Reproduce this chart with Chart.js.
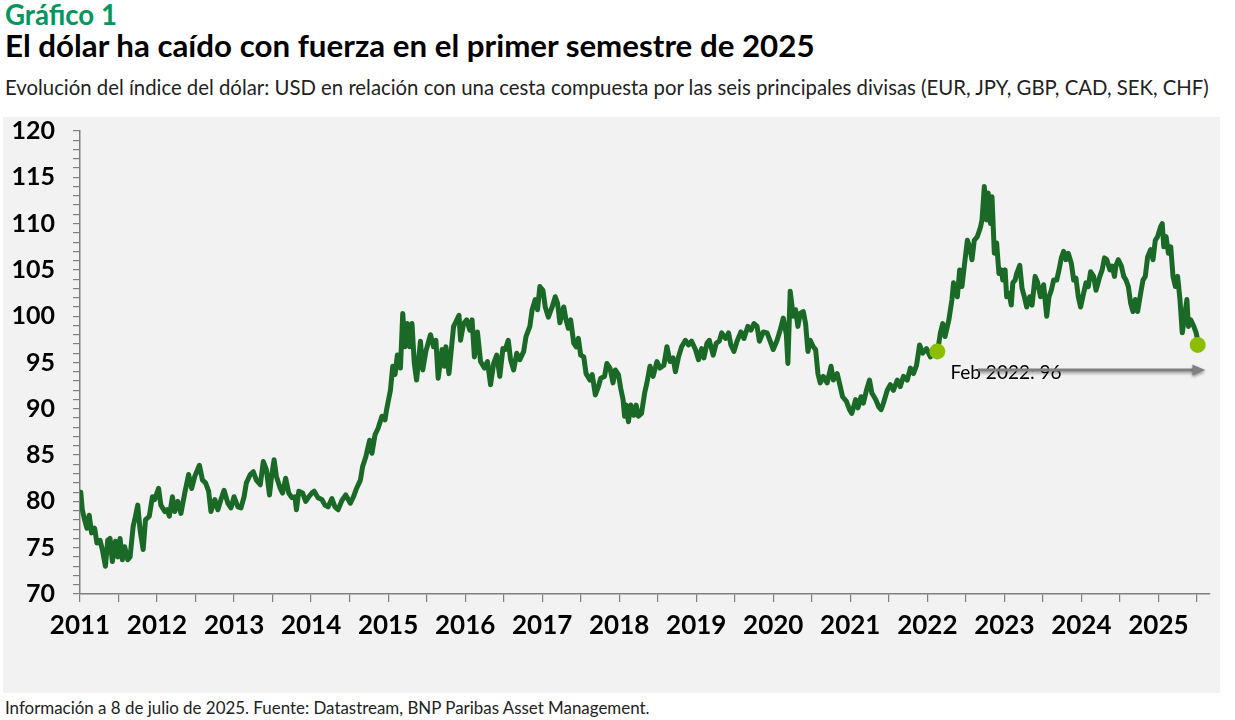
<!DOCTYPE html>
<html lang="es">
<head>
<meta charset="utf-8">
<title>Gráfico 1</title>
<script src="https://cdn.jsdelivr.net/npm/chart.js@4.4.1/dist/chart.umd.min.js"></script>
<style>
  html, body { margin: 0; padding: 0; background: #fff; }
  body { width: 1235px; height: 720px; position: relative; overflow: hidden; font-family: Lato, "Noto Sans", sans-serif; }
  .txt { position: absolute; left: 5px; white-space: nowrap; line-height: 1; }
  #kicker { color: #00965e; font-weight: 700; }
  #titulo { color: #000; font-weight: 700; }
  #subtitulo { color: #222; }
  #fuente { color: #222; }
  #panel { position: absolute; left: 3px; top: 117px; width: 1217px; height: 576px; background: #f2f2f2; }
  #panel canvas { display: block; }
</style>
</head>
<body>
<div id="kicker" class="txt">Gráfico 1</div>
<div id="titulo" class="txt">El dólar ha caído con fuerza en el primer semestre de 2025</div>
<div id="subtitulo" class="txt">Evolución del índice del dólar: USD en relación con una cesta compuesta por las seis principales divisas (EUR, JPY, GBP, CAD, SEK, CHF)</div>
<div id="panel"><canvas id="dxyChart" width="1217" height="576"></canvas></div>
<div id="fuente" class="txt">Información a 8 de julio de 2025. Fuente: Datastream, BNP Paribas Asset Management.</div>

<script>
// fechas en años decimales, índice del dólar (DXY)
const fechas = [
  2011.01, 2011.03, 2011.06, 2011.09, 2011.12, 2011.15, 2011.19, 2011.22, 2011.26, 2011.29, 2011.33, 2011.36, 2011.39, 2011.42, 2011.46, 2011.49, 2011.52, 2011.55, 2011.58, 2011.62, 2011.65, 2011.69, 2011.71, 2011.75, 2011.78, 2011.82, 2011.85, 2011.90, 2011.94, 2011.97,
  2012.02, 2012.05, 2012.10, 2012.13, 2012.16, 2012.20, 2012.23, 2012.27, 2012.31, 2012.36, 2012.41, 2012.45, 2012.49, 2012.55, 2012.59, 2012.63, 2012.67, 2012.70, 2012.75, 2012.79, 2012.83, 2012.87, 2012.92, 2012.96,
  2013.00, 2013.05, 2013.09, 2013.13, 2013.16, 2013.21, 2013.25, 2013.29, 2013.34, 2013.38, 2013.42, 2013.46, 2013.49, 2013.52, 2013.55, 2013.60, 2013.63, 2013.67, 2013.71, 2013.75, 2013.79, 2013.81, 2013.84, 2013.89, 2013.93, 2013.97,
  2014.01, 2014.04, 2014.09, 2014.14, 2014.18, 2014.22, 2014.27, 2014.31, 2014.35, 2014.40, 2014.45, 2014.51, 2014.55, 2014.59, 2014.64, 2014.67, 2014.71, 2014.76, 2014.79, 2014.83, 2014.87, 2014.92, 2014.96, 2014.98,
  2015.03, 2015.06, 2015.09, 2015.12, 2015.16, 2015.19, 2015.22, 2015.25, 2015.28, 2015.31, 2015.34, 2015.37, 2015.42, 2015.45, 2015.49, 2015.55, 2015.59, 2015.62, 2015.65, 2015.70, 2015.73, 2015.75, 2015.79, 2015.85, 2015.88, 2015.92, 2015.94, 2015.98,
  2016.02, 2016.06, 2016.09, 2016.12, 2016.16, 2016.20, 2016.25, 2016.29, 2016.33, 2016.37, 2016.41, 2016.45, 2016.49, 2016.52, 2016.56, 2016.59, 2016.63, 2016.67, 2016.71, 2016.76, 2016.79, 2016.84, 2016.87, 2016.91, 2016.94, 2016.97,
  2017.01, 2017.04, 2017.08, 2017.13, 2017.17, 2017.20, 2017.23, 2017.28, 2017.31, 2017.34, 2017.37, 2017.41, 2017.44, 2017.47, 2017.50, 2017.54, 2017.57, 2017.62, 2017.65, 2017.69, 2017.73, 2017.76, 2017.81, 2017.84, 2017.88, 2017.92, 2017.95, 2017.99,
  2018.02, 2018.05, 2018.07, 2018.09, 2018.12, 2018.15, 2018.19, 2018.22, 2018.25, 2018.29, 2018.33, 2018.36, 2018.40, 2018.44, 2018.49, 2018.53, 2018.58, 2018.62, 2018.66, 2018.70, 2018.73, 2018.77, 2018.81, 2018.86, 2018.90, 2018.94, 2018.99,
  2019.03, 2019.07, 2019.10, 2019.14, 2019.17, 2019.22, 2019.26, 2019.30, 2019.33, 2019.38, 2019.42, 2019.45, 2019.49, 2019.53, 2019.58, 2019.62, 2019.67, 2019.71, 2019.75, 2019.79, 2019.82, 2019.87, 2019.92, 2019.96,
  2020.00, 2020.05, 2020.09, 2020.13, 2020.17, 2020.19, 2020.22, 2020.26, 2020.29, 2020.32, 2020.35, 2020.39, 2020.42, 2020.45, 2020.48, 2020.52, 2020.55, 2020.58, 2020.61, 2020.65, 2020.70, 2020.75, 2020.78, 2020.83, 2020.87, 2020.90, 2020.95, 2020.99,
  2021.02, 2021.07, 2021.10, 2021.14, 2021.17, 2021.21, 2021.25, 2021.28, 2021.33, 2021.37, 2021.40, 2021.43, 2021.48, 2021.52, 2021.56, 2021.61, 2021.65, 2021.69, 2021.74, 2021.78, 2021.82, 2021.86, 2021.90, 2021.94, 2021.99,
  2022.04, 2022.08, 2022.13, 2022.17, 2022.20, 2022.23, 2022.28, 2022.32, 2022.34, 2022.39, 2022.42, 2022.45, 2022.48, 2022.52, 2022.55, 2022.58, 2022.61, 2022.65, 2022.69, 2022.71, 2022.74, 2022.77, 2022.79, 2022.82, 2022.84, 2022.87, 2022.90, 2022.93, 2022.96, 2022.98,
  2023.01, 2023.03, 2023.06, 2023.09, 2023.11, 2023.14, 2023.16, 2023.20, 2023.23, 2023.26, 2023.29, 2023.33, 2023.36, 2023.40, 2023.43, 2023.47, 2023.51, 2023.55, 2023.58, 2023.61, 2023.64, 2023.68, 2023.71, 2023.74, 2023.77, 2023.80, 2023.83, 2023.87, 2023.90, 2023.93, 2023.96, 2023.99,
  2024.03, 2024.06, 2024.09, 2024.12, 2024.16, 2024.19, 2024.24, 2024.27, 2024.30, 2024.33, 2024.37, 2024.40, 2024.43, 2024.45, 2024.48, 2024.52, 2024.55, 2024.58, 2024.61, 2024.64, 2024.67, 2024.70, 2024.73, 2024.77, 2024.80, 2024.83, 2024.86, 2024.90, 2024.93, 2024.96, 2024.99,
  2025.03, 2025.05, 2025.07, 2025.10, 2025.13, 2025.16, 2025.19, 2025.22, 2025.25, 2025.28, 2025.31, 2025.34, 2025.37, 2025.39, 2025.42, 2025.46, 2025.49, 2025.51
];
const dxy = [
  81.0, 79.1, 78.0, 77.1, 78.5, 76.6, 77.1, 75.5, 75.8, 74.8, 73.0, 75.8, 76.0, 73.5, 75.7, 74.0, 76.0, 73.7, 75.1, 73.7, 74.0, 77.3, 78.0, 79.6, 76.9, 74.8, 78.0, 78.4, 80.5, 80.2,
  81.4, 79.6, 78.9, 79.1, 78.4, 80.5, 78.9, 80.0, 78.7, 80.9, 82.9, 81.4, 82.7, 83.9, 82.3, 82.0, 81.1, 78.9, 80.2, 79.1, 80.2, 81.2, 79.8, 79.3,
  80.5, 79.4, 79.3, 80.5, 82.0, 82.9, 83.2, 82.3, 81.8, 84.3, 83.4, 80.7, 82.9, 84.5, 82.7, 81.4, 80.9, 82.5, 80.9, 80.4, 80.5, 79.1, 81.1, 80.9, 80.0, 80.5,
  80.9, 81.1, 80.4, 80.2, 79.6, 79.4, 80.3, 79.4, 79.1, 80.1, 80.7, 79.8, 80.5, 81.4, 82.3, 83.8, 84.8, 86.6, 85.2, 87.2, 87.9, 89.2, 88.8, 89.9,
  92.0, 94.6, 93.7, 95.8, 94.4, 100.3, 96.7, 99.2, 96.7, 99.2, 94.9, 93.1, 97.3, 94.2, 96.2, 98.0, 96.7, 97.4, 93.3, 96.4, 94.6, 96.7, 93.8, 98.9, 99.4, 100.1, 97.4, 99.2,
  99.6, 98.5, 99.6, 95.6, 98.3, 95.1, 94.4, 95.1, 92.6, 94.9, 95.8, 93.5, 96.5, 96.4, 97.4, 95.3, 94.2, 96.0, 95.3, 96.2, 97.8, 98.9, 100.7, 101.8, 100.7, 103.2,
  102.8, 101.0, 99.9, 101.0, 102.1, 101.4, 99.3, 101.0, 99.6, 98.7, 99.6, 97.1, 96.7, 97.6, 95.8, 95.6, 93.8, 93.1, 93.7, 91.5, 92.4, 93.3, 93.5, 94.9, 94.4, 92.8, 94.2, 93.7,
  92.2, 91.0, 89.2, 90.4, 88.6, 90.4, 89.3, 90.4, 89.2, 89.5, 91.7, 92.8, 94.6, 93.5, 95.1, 94.4, 94.7, 96.7, 95.1, 95.5, 94.0, 95.6, 96.7, 97.4, 96.9, 97.3, 96.4,
  95.3, 96.5, 95.5, 97.1, 97.4, 95.8, 97.1, 97.3, 98.2, 97.6, 98.2, 96.9, 96.2, 97.3, 98.3, 97.6, 98.9, 98.5, 99.2, 98.9, 97.3, 98.3, 98.2, 97.3,
  96.4, 97.4, 98.5, 99.8, 98.0, 94.9, 102.7, 100.0, 100.7, 98.9, 100.3, 100.5, 99.2, 96.2, 97.4, 96.7, 96.4, 93.8, 92.8, 93.5, 92.8, 94.6, 93.1, 93.8, 92.4, 91.3, 90.8, 89.9,
  89.5, 91.0, 90.1, 91.3, 90.6, 92.0, 93.1, 91.7, 91.0, 90.2, 89.9, 90.6, 92.0, 92.6, 92.0, 93.1, 92.4, 93.5, 93.1, 94.4, 93.8, 94.7, 96.9, 96.0, 96.5,
  95.6, 96.4, 96.0, 98.2, 99.2, 97.8, 99.6, 101.8, 103.6, 102.1, 105.0, 103.2, 105.4, 108.2, 107.5, 106.1, 108.2, 108.6, 109.6, 110.4, 114.0, 110.4, 113.3, 110.0, 112.9, 106.8, 107.9, 104.6, 105.0, 103.9,
  105.0, 102.1, 102.5, 101.2, 103.6, 103.9, 104.6, 105.5, 103.0, 102.1, 101.0, 102.1, 101.2, 104.3, 103.7, 102.1, 103.4, 100.0, 102.1, 102.8, 103.9, 103.9, 105.0, 106.3, 107.0, 106.1, 106.8, 105.7, 103.9, 104.1, 102.1, 101.0,
  102.5, 103.6, 103.2, 104.8, 104.3, 102.8, 104.3, 105.0, 106.3, 106.1, 105.0, 105.4, 104.3, 105.5, 106.1, 105.4, 104.3, 103.9, 103.2, 101.4, 100.5, 101.8, 100.5, 102.5, 103.9, 104.3, 106.4, 107.2, 106.1, 108.2, 108.6,
  109.7, 110.0, 107.5, 108.6, 106.8, 107.5, 104.3, 103.2, 104.3, 101.8, 98.2, 100.0, 101.8, 98.9, 99.6, 98.9, 98.2, 97.4
];

// puntos destacados (feb 2022 y último dato)
const puntosFechas = [2022.13, 2025.51];
const puntosValores = [96.2, 96.9];

// anotación
const etiquetaFlecha = "Feb 2022: 96";
const etiquetaPos = [2022.30, 93.9];
const flechaDesde = 2022.66;
const flechaHasta = 2025.61;
const flechaNivel = 94.2;

// ejes
const ejeX = { min: 2011, max: 2025.67, paso: 0.5 };
const ejeY = { min: 70, max: 120, paso: 1, etiquetaCada: 5 };

// ajusta tamaño de los textos HTML al ancho del original
function ajustarTexto(id, ancho, base, lineaBase) {
  const el = document.getElementById(id);
  el.style.fontSize = base + "px";
  const w = el.getBoundingClientRect().width;
  const size = base * ancho / w;
  el.style.fontSize = size + "px";
  el.style.top = (lineaBase - 0.887 * size) + "px";
}
ajustarTexto("kicker", 112, 28, 26);
ajustarTexto("titulo", 810, 28, 58);
ajustarTexto("subtitulo", 1205, 20, 95);
ajustarTexto("fuente", 645, 18, 715);

const GRIS_EJE = "#7f7f7f";

const flechaPlugin = {
  id: "flechaFeb2022",
  afterDatasetsDraw(chart) {
    const { ctx, scales } = chart;
    const x = scales.x, y = scales.y;
    ctx.save();
    // texto
    ctx.font = "19px Lato, 'Noto Sans', sans-serif";
    ctx.fillStyle = "#000";
    ctx.textAlign = "left";
    ctx.textBaseline = "middle";
    ctx.fillText(etiquetaFlecha, x.getPixelForValue(etiquetaPos[0]), y.getPixelForValue(etiquetaPos[1]));
    // flecha
    const x0 = x.getPixelForValue(flechaDesde);
    const x1 = x.getPixelForValue(flechaHasta);
    const yy = y.getPixelForValue(flechaNivel);
    ctx.shadowColor = "rgba(0,0,0,0.35)";
    ctx.shadowBlur = 3;
    ctx.shadowOffsetY = 2;
    ctx.strokeStyle = "#808080";
    ctx.fillStyle = "#808080";
    ctx.lineWidth = 3;
    ctx.beginPath();
    ctx.moveTo(x0, yy);
    ctx.lineTo(x1 - 10, yy);
    ctx.stroke();
    ctx.beginPath();
    ctx.moveTo(x1, yy);
    ctx.lineTo(x1 - 13, yy - 5.5);
    ctx.lineTo(x1 - 13, yy + 5.5);
    ctx.closePath();
    ctx.fill();
    ctx.restore();
  }
};

new Chart(document.getElementById("dxyChart"), {
  type: "line",
  data: {
    datasets: [
      {
        label: "Puntos",
        data: puntosFechas.map((f, i) => ({ x: f, y: puntosValores[i] })),
        showLine: false,
        pointRadius: 8,
        pointBackgroundColor: "#8cbe00",
        pointBorderWidth: 0,
        order: 0
      },
      {
        label: "Índice del dólar",
        data: fechas.map((f, i) => ({ x: f, y: dxy[i] })),
        borderColor: "#1a6926",
        borderWidth: 5,
        borderJoinStyle: "round",
        borderCapStyle: "round",
        pointRadius: 0,
        tension: 0,
        fill: false,
        order: 1
      }
    ]
  },
  options: {
    responsive: false,
    animation: false,
    events: [],
    layout: { padding: { top: 14, right: 10, left: 0, bottom: 0 } },
    plugins: {
      legend: { display: false },
      tooltip: { enabled: false }
    },
    scales: {
      x: {
        type: "linear",
        min: ejeX.min,
        max: ejeX.max,
        afterFit: (s) => { s.height = 99; s.paddingLeft = 0; s.paddingRight = 0; },
        border: { color: GRIS_EJE, width: 1.5 },
        grid: { drawOnChartArea: false, drawTicks: true, tickLength: 8, color: GRIS_EJE, lineWidth: 1.2 },
        ticks: {
          stepSize: ejeX.paso,
          includeBounds: false,
          autoSkip: false,
          maxRotation: 0,
          padding: 8,
          color: "#000",
          font: { family: "Lato, 'Noto Sans', sans-serif", size: 26, weight: "bold" },
          callback: (v) => Number.isInteger(v) ? String(v) : ""
        }
      },
      y: {
        min: ejeY.min,
        max: ejeY.max,
        afterFit: (s) => { s.width = 77; s.paddingTop = 0; s.paddingBottom = 0; },
        border: { color: GRIS_EJE, width: 1.5 },
        grid: { drawOnChartArea: false, drawTicks: true, tickLength: 7, color: GRIS_EJE, lineWidth: 1.2 },
        ticks: {
          stepSize: ejeY.paso,
          autoSkip: false,
          padding: 18,
          color: "#000",
          font: { family: "Lato, 'Noto Sans', sans-serif", size: 25, weight: "bold", lineHeight: 1 },
          callback: (v) => v % ejeY.etiquetaCada === 0 ? String(v) : ""
        }
      }
    }
  },
  plugins: [flechaPlugin]
});
</script>
</body>
</html>
